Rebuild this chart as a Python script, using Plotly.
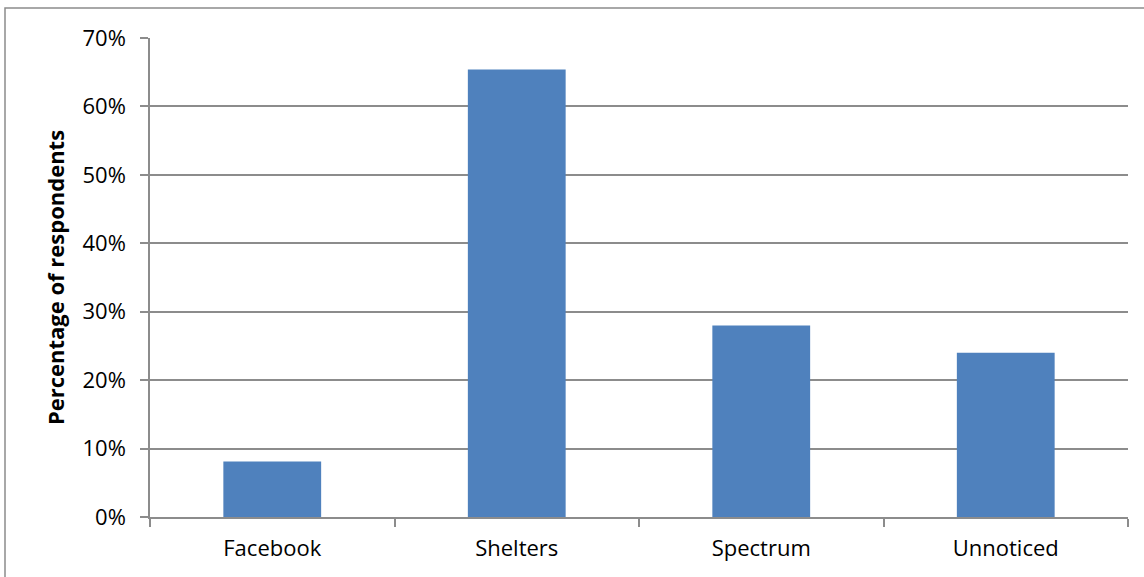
import plotly.graph_objects as go

categories = ["Facebook", "Shelters", "Spectrum", "Unnoticed"]
values = [8.1, 65.4, 28.0, 24.0]
y_ticks = [0, 10, 20, 30, 40, 50, 60, 70]
y_tick_labels = [f"{t}%" for t in y_ticks]

W, H = 1144, 577
L, R, T, B = 150, 16, 38, 60
pw = W - L - R
ph = H - T - B

fig = go.Figure(go.Bar(
    x=categories, y=values,
    marker=dict(color="#4F81BD", line=dict(width=0)),
    width=0.4,
))

grid = "#8C8C8C"
fig.update_layout(
    width=W, height=H,
    margin=dict(l=L, r=R, t=T, b=B, pad=0),
    paper_bgcolor="white", plot_bgcolor="white",
    font=dict(family="Open Sans, Liberation Sans, sans-serif", size=22, color="black"),
    showlegend=False,
    xaxis=dict(
        showline=True, linecolor=grid, linewidth=1.5,
        ticks="outside", ticklen=8, tickcolor=grid, tickwidth=1.5,
        tickson="boundaries", showgrid=False,
        tickfont=dict(size=22),
        ticklabelstandoff=11,
        range=[-0.5, 3.5],
    ),
    yaxis=dict(
        range=[0, 70], tickvals=y_ticks, ticktext=y_tick_labels,
        showline=True, linecolor=grid, linewidth=1.5,
        ticks="outside", ticklen=8, tickcolor=grid, tickwidth=1.5,
        showgrid=True, gridcolor=grid, gridwidth=1.5,
        zeroline=False,
        tickfont=dict(size=22),
        ticklabelstandoff=10,
        title=dict(text="<b>Percentage of respondents</b>", font=dict(size=22), standoff=12),
    ),
    shapes=[dict(
        type="rect", xref="paper", yref="paper",
        x0=(5 - L) / pw, x1=(W + 5 - L) / pw,
        y0=(H - B - (H + 5)) / ph, y1=(H - B - 8) / ph,
        line=dict(color="#8C8C8C", width=1.5), fillcolor="rgba(0,0,0,0)",
        layer="below",
    )],
)

fig.write_html("out.html")
